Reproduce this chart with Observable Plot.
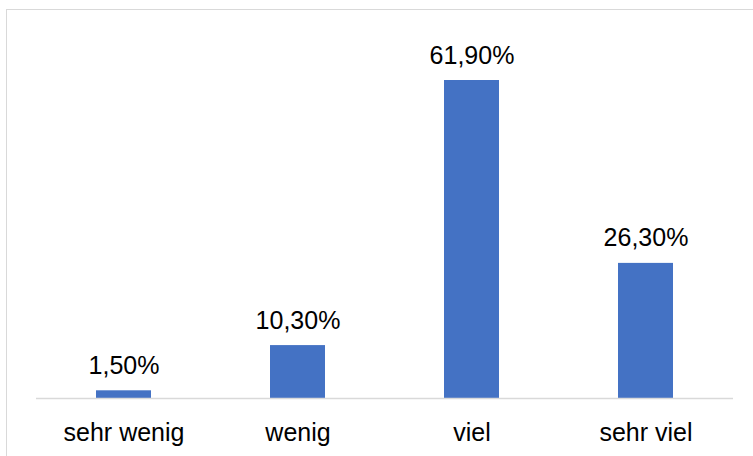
<!DOCTYPE html>
<html>
<head>
<meta charset="utf-8">
<script src="https://cdn.jsdelivr.net/npm/d3@7"></script>
<script src="https://cdn.jsdelivr.net/npm/@observablehq/plot@0.6"></script>
<style>
  html, body { margin: 0; padding: 0; background: #fff; overflow: hidden; }
  #wrap { position: relative; width: 753px; height: 456px; }
  #frame { position: absolute; left: 6px; top: 9px; width: 800px; height: 500px;
           border: 1.5px solid #d9d9d9; box-sizing: border-box; pointer-events: none; }
  svg { font-family: "Liberation Sans", Arial, sans-serif; }
</style>
</head>
<body>
<div id="wrap"><div id="frame"></div></div>
<script>
const categories = ["sehr wenig", "wenig", "viel", "sehr viel"];
const values = [1.5, 10.3, 61.9, 26.3];

const data = categories.map((c, i) => ({category: c, value: values[i]}));
const fmt = v => v.toFixed(2).replace(".", ",") + "%";
const pxPerUnit = 318 / 61.9;

const chart = Plot.plot({
  width: 753,
  height: 456,
  marginLeft: 36,
  marginRight: 20,
  marginTop: 0,
  marginBottom: 58,
  style: {fontFamily: "Liberation Sans, Arial, sans-serif", background: "transparent"},
  x: {domain: categories, paddingInner: 1 - 55 / 174.25, paddingOuter: (1 - 55 / 174.25) / 2, label: null},
  y: {domain: [0, 75], range: [398, 398 - 75 * pxPerUnit], axis: null},
  marks: [
    Plot.barY(data, {x: "category", y: "value", fill: "#4472c4"}),
    Plot.ruleY([0], {stroke: "#d9d9d9", strokeWidth: 1.5}),
    Plot.text(data, {x: "category", y: "value", text: d => fmt(d.value), lineAnchor: "bottom",
                     dy: -17, fontSize: 25, fill: "#000"}),
    Plot.axisX({tickSize: 0, tickPadding: 25, fontSize: 25, color: "#000", label: null})
  ]
});
document.getElementById("wrap").prepend(chart);
</script>
</body>
</html>
